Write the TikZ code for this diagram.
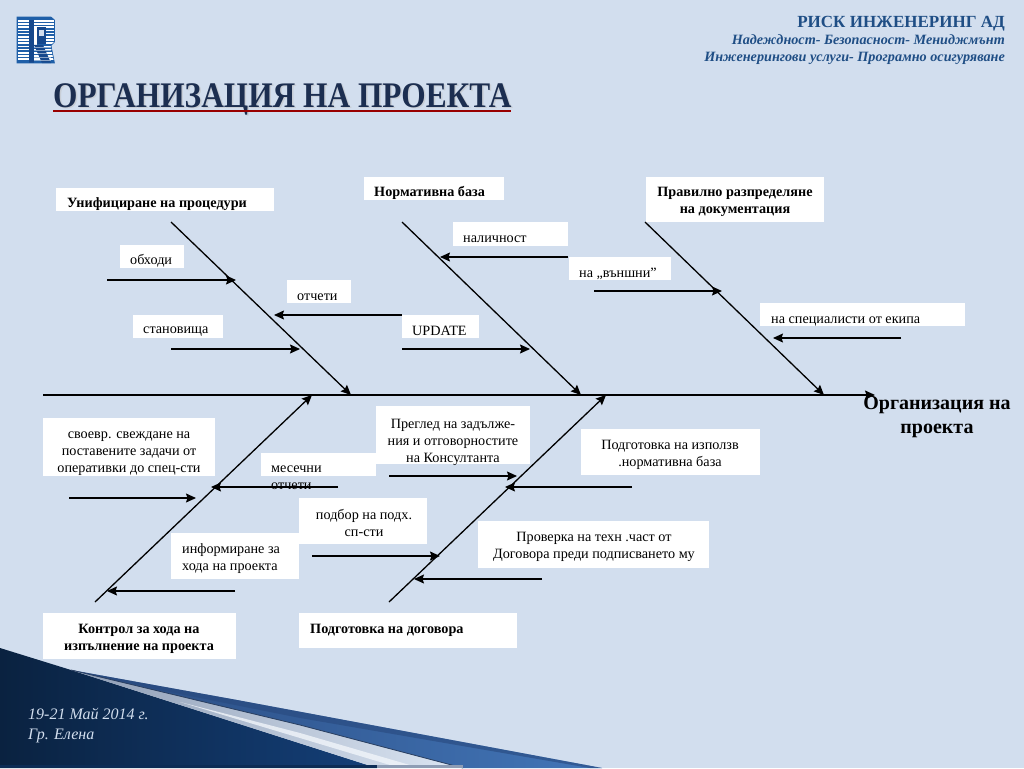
\documentclass[tikz,border=0pt]{standalone}
\usepackage{fontspec}
\setmainfont{Liberation Serif}
\definecolor{bgc}{HTML}{D2DEEE}
\definecolor{titlec}{HTML}{1C2E50}
\definecolor{headc}{HTML}{1F4E85}
\definecolor{logoc}{HTML}{1F5FA8}
\definecolor{logod}{HTML}{16488C}
\definecolor{navya}{HTML}{0A2240}
\definecolor{navyb}{HTML}{143F78}
\definecolor{navyc}{HTML}{0C2C55}
\definecolor{stripa}{HTML}{28497E}
\definecolor{stripb}{HTML}{4376B8}
\definecolor{silvera}{HTML}{8E9DB5}
\definecolor{silverb}{HTML}{DCE6F3}
\definecolor{sepc}{HTML}{2A3F60}
\usetikzlibrary{arrows.meta,shadings}
\tikzset{
 box/.style={fill=white,inner sep=0pt,outer sep=0pt,anchor=north west},
 lbl/.style={inner sep=0pt,font=\fontsize{14.2}{17}\selectfont,anchor=base west},
 clbl/.style={inner sep=0pt,font=\fontsize{14.2}{17}\selectfont,anchor=north,align=center},
 blbl/.style={inner sep=0pt,font=\fontsize{14.2}{17}\selectfont\bfseries,anchor=base west},
 cblbl/.style={inner sep=0pt,font=\fontsize{14.2}{17}\selectfont\bfseries,anchor=north,align=center},
 bone/.style={draw=black,line width=1.3pt,-{Stealth[length=10pt,width=9pt,inset=1.5pt]}},
 twig/.style={draw=black,line width=1.1pt,-{Stealth[length=10pt,width=9pt,inset=1.5pt]}},
 spine/.style={draw=black,line width=1.5pt,-{Stealth[length=10pt,width=9pt,inset=1.5pt]}},
}
\newcommand{\whitebox}[5]{\node[box,minimum width=#3-#1,minimum height=#4-#2] (#5) at (#1,#2) {};}
\begin{document}
\begin{tikzpicture}[x=1pt,y=-1pt]
\useasboundingbox (0,0) rectangle (1024,768);
\fill[bgc] (0,0) rectangle (1024,768);
% corner decoration
\shade[left color=navya,right color=navyb] (0,648) -- (71,670) -- (377,768) -- (0,768) -- cycle;
\shade[left color=silvera,right color=silverb] (71,670) -- (300,725) -- (463,768) -- (377,768) -- cycle;
\fill[white!60!silverb,opacity=.8] (180,702) -- (300,733) -- (420,768) -- (400,768) -- (300,738) -- cycle;
\shade[left color=stripa,right color=stripb] (71,670) -- (237,700) -- (602,768) -- (463,768) -- (300,725) -- cycle;
\fill[stripa,opacity=.6] (71,670) -- (237,700) -- (602,768) -- (590,768) -- (300,718) -- (160,690) -- cycle;
\draw[sepc,line width=.8pt] (71,670) -- (300,725) -- (463,768);
\fill[navyc] (0,765) rectangle (377,768);
\fill[silvera] (377,765) rectangle (463,768);
\node[inner sep=0pt,anchor=base west,text=bgc,font=\fontsize{16}{16}\selectfont\itshape] (date) at (28,719) {19-21 Май 2014 г.};
\node[inner sep=0pt,anchor=base west,text=bgc,font=\fontsize{16}{16}\selectfont\itshape] (place) at (28,739) {Гр. Елена};
% logo
\begin{scope}
 \clip (17,17) -- (51,17) -- (54.5,20) -- (54.5,42) -- (51,45.5) -- (54.5,63) -- (17,63) -- cycle;
 \fill[logoc] (17,17) rectangle (55,63);
 \foreach \yy in {20,23.2,...,61} {\fill[white] (18,\yy) rectangle (53.5,\yy+1.7);}
 \fill[logod] (29,20) rectangle (34,63);
 \fill[white] (34,27) rectangle (37,45);
 \fill[logod] (37,27) rectangle (46,44);
 \fill[bgc] (39,30) rectangle (44,36);
 \fill[logod] (34,45) -- (43,45) -- (51,63) -- (42,63) -- cycle;
 \foreach \yy in {47,50.2,...,61} {\fill[white,opacity=.5] (34,\yy) rectangle (51,\yy+1);}
\end{scope}
\draw[logoc,line width=.6pt] (17,17) -- (51,17) -- (54.5,20) -- (54.5,42) -- (51,45.5) -- (54.5,63) -- (17,63) -- cycle;
% title
\node[inner sep=0pt,anchor=base west,text=black!25,opacity=.5,xscale=.871,font=\fontsize{36}{36}\selectfont\bfseries] (titleshadow) at (54.5,108.5) {ОРГАНИЗАЦИЯ НА ПРОЕКТА};
\node[inner sep=0pt,anchor=base west,text=titlec,xscale=.871,font=\fontsize{36}{36}\selectfont\bfseries] (title) at (53,107.5) {ОРГАНИЗАЦИЯ НА ПРОЕКТА};
\coordinate (ul1) at (53,111); \coordinate (ul2) at (511,111);
\draw[draw=red!60!black,line width=1.6pt] (ul1) -- (ul2);
% header
\node[inner sep=0pt,anchor=base east,text=headc,font=\fontsize{17}{17}\selectfont\bfseries] (h1) at (1005,28) {РИСК ИНЖЕНЕРИНГ АД};
\node[inner sep=0pt,anchor=base east,text=headc,font=\fontsize{14.2}{14}\selectfont\bfseries\itshape] (h2) at (1005,45) {Надеждност- Безопасност- Мениджмънт};
\node[inner sep=0pt,anchor=base east,text=headc,font=\fontsize{14.2}{14}\selectfont\bfseries\itshape] (h3) at (1005,62) {Инженерингови услуги- Програмно осигуряване};
% boxes
\whitebox{56}{188}{274}{211}{b1}
\whitebox{120}{245}{184}{268}{b2}
\whitebox{133}{315}{223}{338}{b3}
\whitebox{287}{280}{351}{303}{b4}
\whitebox{364}{177}{504}{200}{b5}
\whitebox{453}{222}{568}{246}{b6}
\whitebox{569}{257}{671}{280}{b7}
\whitebox{402}{315}{479}{338}{b8}
\whitebox{646}{177}{824}{222}{b9}
\whitebox{760}{303}{965}{326}{b10}
\whitebox{43}{418}{215}{476}{b11}
\whitebox{261}{453}{376}{476}{b12}
\whitebox{376}{406}{530}{464}{b13}
\whitebox{581}{429}{760}{475}{b14}
\whitebox{299}{498}{427}{544}{b15}
\whitebox{171}{533}{299}{579}{b16}
\whitebox{478}{521}{709}{568}{b17}
\whitebox{43}{613}{236}{659}{b18}
\whitebox{299}{613}{517}{648}{b19}
% labels
\node[blbl] (t1) at (67,207) {Унифициране на процедури};
\node[lbl] (t2) at (130,264) {обходи};
\node[lbl] (t3) at (143,333) {становища};
\node[lbl] (t4) at (297,300) {отчети};
\node[blbl] (t5) at (374,196) {Нормативна база};
\node[lbl] (t6) at (463,242) {наличност};
\node[lbl] (t7) at (579,277) {на „външни”};
\node[lbl] (t8) at (412,335) {UPDATE};
\node[cblbl] (t9) at (735,187) {Правилно разпределяне\\на документация};
\node[lbl] (t10) at (771,323) {на специалисти от екипа};
\node[clbl] (t11) at (129,432) {своевр. свеждане на\\поставените задачи от\\оперативки до спец-сти};
\node[lbl,align=left,anchor=north west] (t12) at (271,466) {месечни\\отчети};
\node[clbl] (t13) at (453,419) {Преглед на задълже-\\ния и отговорностите\\на Консултанта};
\node[clbl] (t14) at (670,440) {Подготовка на използв\\.нормативна база};
\node[clbl] (t15) at (364,509) {подбор на подх.\\сп-сти};
\node[lbl,align=left,anchor=north west] (t16) at (182,543) {информиране за\\хода на проекта};
\node[clbl] (t17) at (594,532) {Проверка на техн .част от\\Договора преди подписването му};
\node[cblbl] (t18) at (139,624) {Контрол за хода на\\изпълнение на проекта};
\node[blbl] (t19) at (310,633) {Подготовка на договора};
% skeleton coordinates
\coordinate (sp0) at (43,395); \coordinate (sp1) at (875,395);
\coordinate (u1) at (171,222); \coordinate (u1e) at (351,395);
\coordinate (u2) at (402,222); \coordinate (u2e) at (581,395);
\coordinate (u3) at (645,222); \coordinate (u3e) at (824,395);
\coordinate (l1) at (95,602); \coordinate (l1e) at (312,395);
\coordinate (l2) at (389,602); \coordinate (l2e) at (606,395);
\draw[spine] (sp0) -- (sp1);
\foreach \a/\b in {u1/u1e,u2/u2e,u3/u3e,l1/l1e,l2/l2e}{\draw[bone] (\a) -- (\b);}
% twigs
\foreach \n/\xa/\ya/\xb/\yb in {a/107/280/236/280,b/171/349/300/349,c/402/315/274/315,d/568/257/440/257,e/402/349/530/349,f/594/291/722/291,g/901/338/773/338,h/69/498/196/498,i/338/487/211/487,j/235/591/107/591,k/389/476/517/476,m/632/487/505/487,o/312/556/440/556,p/542/579/414/579}{
 \coordinate (tw\n s) at (\xa,\ya);
 \coordinate (tw\n e) at (\xb,\yb);
 \draw[twig] (tw\n s) -- (tw\n e);
}
\node[inner sep=0pt,anchor=north,align=center,font=\fontsize{20}{24}\selectfont\bfseries] (effect) at (937,396.5) {Организация на\\проекта};
\end{tikzpicture}
\end{document}
